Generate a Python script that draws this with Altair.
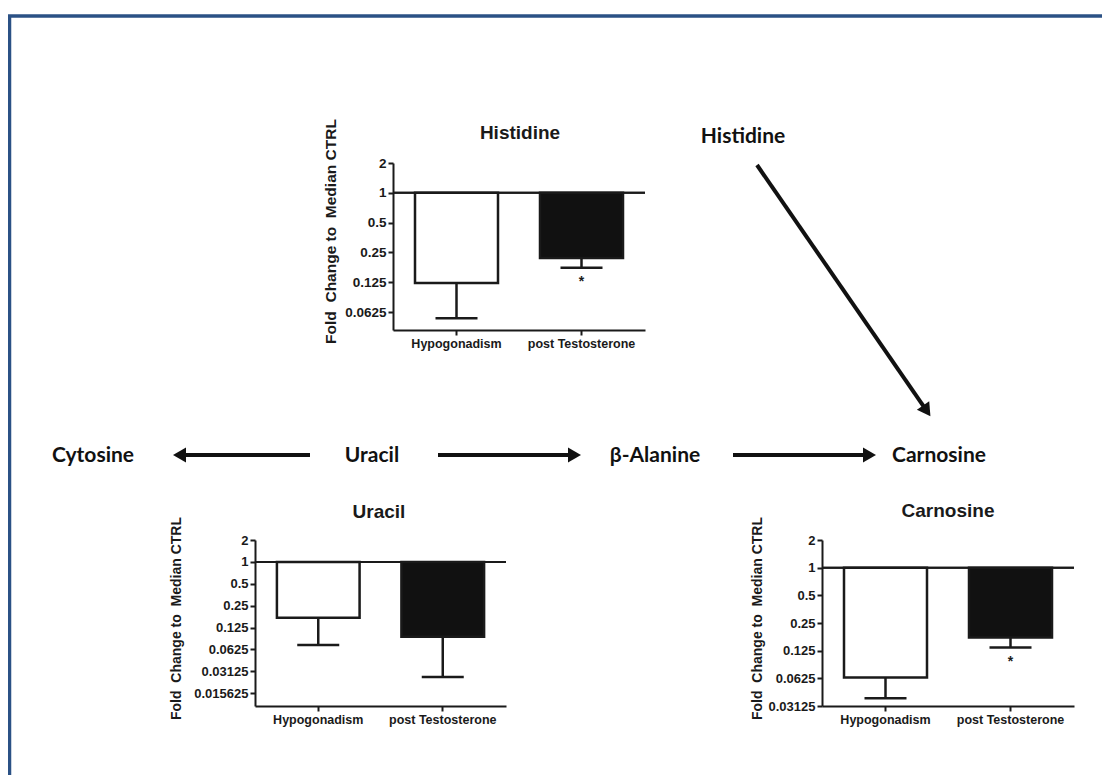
import math
import altair as alt
import pandas as pd

# ---------------- data ----------------
groups = ["Hypogonadism", "post Testosterone"]

histidine_fold = [0.123, 0.22]
histidine_lower = [0.054, 0.175]
histidine_sig = ["", "*"]

uracil_fold = [0.17, 0.093]
uracil_lower = [0.072, 0.026]
uracil_sig = ["", ""]

carnosine_fold = [0.064, 0.174]
carnosine_lower = [0.038, 0.135]
carnosine_sig = ["", "*"]

histidine_ticks = [2, 1, 0.5, 0.25, 0.125, 0.0625]
uracil_ticks = [2, 1, 0.5, 0.25, 0.125, 0.0625, 0.03125, 0.015625]
carnosine_ticks = [2, 1, 0.5, 0.25, 0.125, 0.0625, 0.03125]

y_title = "Fold\u00a0 Change to\u00a0 Median CTRL"

pathway_nodes = ["Histidine", "Cytosine", "Uracil", "β-Alanine", "Carnosine"]
pathway_edges = [("Uracil", "Cytosine"), ("Uracil", "β-Alanine"),
                 ("β-Alanine", "Carnosine"), ("Histidine", "Carnosine")]

# ---------------- layout (page pixels) ----------------
W, H = 1094, 767
M = 8
node_xy = {"Histidine": (743, 137), "Cytosine": (93, 456), "Uracil": (372, 456),
           "β-Alanine": (655, 456), "Carnosine": (939, 456)}
edge_geom = [(310, 455, 172, 455), (438, 455, 582, 455),
             (733, 455, 877, 455), (757, 165, 931, 417)]

panels = [
    dict(name="Histidine", fold=histidine_fold, lower=histidine_lower, sig=histidine_sig,
         ticks=histidine_ticks, lo=0.0412, x0=393, x1=645, ytop=163, ybot=330,
         tx=520, ty=133, ytx=330, yty=231, lab=13.5, tfs=15.5),
    dict(name="Uracil", fold=uracil_fold, lower=uracil_lower, sig=uracil_sig,
         ticks=uracil_ticks, lo=0.0104, x0=255, x1=506, ytop=540, ybot=706,
         tx=379, ty=512, ytx=176, yty=618, lab=13, tfs=14),
    dict(name="Carnosine", fold=carnosine_fold, lower=carnosine_lower, sig=carnosine_sig,
         ticks=carnosine_ticks, lo=0.03125, x0=822, x1=1074, ytop=540, ybot=706,
         tx=948, ty=511, ytx=757, yty=618, lab=13, tfs=14),
]

INK = "#1a1a1a"
BLUE = "#2b5185"

# ---------------- diagram layer ----------------
px = alt.Scale(domain=[M, M + W], range=[0, W], nice=False, zero=False)
py = alt.Scale(domain=[M, M + H], range=[0, H], nice=False, zero=False)

nodes_df = pd.DataFrame({"label": pathway_nodes,
                         "x": [node_xy[n][0] for n in pathway_nodes],
                         "y": [node_xy[n][1] for n in pathway_nodes]})
titles_df = pd.DataFrame({"label": [p["name"] for p in panels],
                          "x": [p["tx"] for p in panels],
                          "y": [p["ty"] for p in panels]})

r_head = 7.5
rows = []
for (sx, sy, tx, ty) in edge_geom:
    L = math.hypot(tx - sx, ty - sy)
    dx, dy = (tx - sx) / L, (ty - sy) / L
    hx, hy = tx - dx * r_head, ty - dy * r_head
    rows.append(dict(x=sx, y=sy, x2=hx, y2=hy, hx=hx, hy=hy,
                     ang=math.degrees(math.atan2(dy, dx)) % 360))
edges_df = pd.DataFrame(rows)

frame_df = pd.DataFrame({"x": [M, M + 1.5], "y": [16, 16],
                         "x2": [M + W, M + 1.5], "y2": [16, M + H]})

X = lambda f: alt.X(f, type="quantitative", scale=px, axis=None)
Y = lambda f: alt.Y(f, type="quantitative", scale=py, axis=None)

frame = alt.Chart(frame_df).mark_rule(color=BLUE, strokeWidth=3.5).encode(
    x=X("x"), y=Y("y"), x2="x2", y2="y2")
node_text = alt.Chart(nodes_df).mark_text(
    font="Lato", fontWeight="bold", fontSize=21, color="#111111",
    align="center", baseline="middle").encode(x=X("x"), y=Y("y"), text="label:N")
title_text = alt.Chart(titles_df).mark_text(
    font="Liberation Sans", fontWeight="bold", fontSize=19, color=INK,
    align="center", baseline="middle").encode(x=X("x"), y=Y("y"), text="label:N")
edge_lines = alt.Chart(edges_df).mark_rule(color="#111111", strokeWidth=4).encode(
    x=X("x"), y=Y("y"), x2="x2", y2="y2")
edge_heads = alt.Chart(edges_df).mark_point(
    shape="triangle-right", filled=True, color="#111111", size=225, opacity=1,
    strokeWidth=0).encode(x=X("hx"), y=Y("hy"), angle=alt.Angle("ang:Q", scale=None))

diagram = alt.layer(frame, edge_lines, edge_heads, node_text, title_text)


# ---------------- bar panels ----------------
def panel(p):
    df = pd.DataFrame({"group": groups, "fold": p["fold"], "lower": p["lower"],
                       "sig": p["sig"], "base": [1.0, 1.0]})
    xs = alt.Scale(type="band", domain=groups, range=[p["x0"] - M, p["x1"] - M],
                   paddingInner=0.336, paddingOuter=0.176)
    ys = alt.Scale(type="log", base=2, domain=[p["lo"], 2],
                   range=[p["ybot"] - M, p["ytop"] - M], nice=False)
    xax = alt.Axis(orient="bottom", offset=(p["ybot"] - M) - H, title=None,
                   labelAngle=0, labelPadding=2)
    yax = alt.Axis(orient="left", offset=-(p["x0"] - M), values=p["ticks"],
                   labelExpr="'' + datum.value", labelPadding=2, labelFontSize=p["lab"],
                   title=y_title, titleX=p["ytx"] - p["x0"], titleY=p["yty"] - M,
                   titleFontSize=p["tfs"],
                   titleAngle=270, titleAlign="center", titleBaseline="middle")
    xe = alt.X("group:N", scale=xs, axis=xax, sort=groups)
    base = alt.Chart(df)
    bars = base.mark_bar(stroke=INK, strokeWidth=2.5).encode(
        x=xe, y=alt.Y("fold:Q", scale=ys, axis=yax), y2="base:Q",
        fill=alt.Fill("group:N", scale=alt.Scale(domain=groups, range=["white", "#111111"]),
                      legend=None))
    one = base.mark_rule(color=INK, strokeWidth=2).encode(
        x=alt.value(p["x0"] - M), x2=alt.value(p["x1"] - M), y=alt.datum(1))
    err = base.mark_rule(color=INK, strokeWidth=2.5).encode(
        x=xe, y=alt.Y("fold:Q", scale=ys, axis=yax), y2="lower:Q")
    cap = base.mark_tick(orient="horizontal", size=42, thickness=2.5, color=INK, opacity=1).encode(
        x=xe, y=alt.Y("lower:Q", scale=ys, axis=yax))
    star = base.mark_text(font="Liberation Sans", fontWeight="bold", fontSize=14,
                          color=INK, dy=14, baseline="middle").encode(
        x=xe, y=alt.Y("lower:Q", scale=ys, axis=yax), text="sig:N")
    return alt.layer(bars, one, err, cap, star)


chart = alt.layer(diagram, *[panel(p) for p in panels]).resolve_scale(
    x="independent", y="independent"
).resolve_axis(
    x="independent", y="independent"
).properties(
    width=W, height=H, padding=0, background="white",
    autosize=alt.AutoSizeParams(type="none"),
).configure_view(
    stroke=None
).configure_axis(
    grid=False, domainColor=INK, domainWidth=2, tickColor=INK, tickWidth=2, tickSize=5,
    labelFont="Liberation Sans", labelFontWeight="bold", labelFontSize=12.5, labelColor=INK,
    titleFont="Liberation Sans", titleFontWeight="bold", titleFontSize=14, titleColor=INK,
)

chart.save("out.html", embed_options={"renderer": "svg", "actions": False})
